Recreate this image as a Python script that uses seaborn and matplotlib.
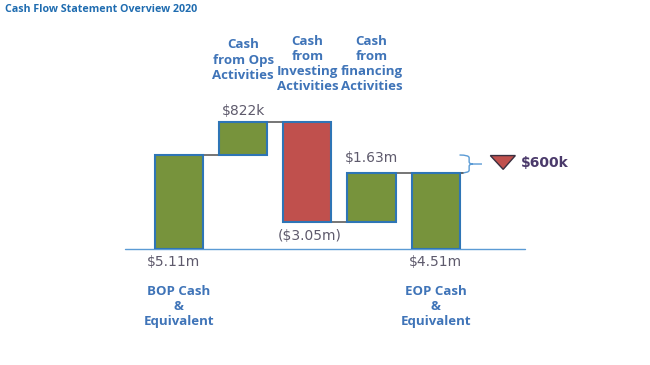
import matplotlib
matplotlib.use("Agg")
import matplotlib.pyplot as plt
import seaborn as sns
import pandas as pd
from matplotlib.patches import Polygon, PathPatch
from matplotlib.path import Path

# Waterfall steps (bar heights, in picture units)
steps = ["BOP", "Ops", "Investing", "Financing", "EOP"]
bop_level = 5.11
deltas = [1.79, -5.43, 2.66]          # ops, investing, financing
value_labels = ["$5.11m", "$822k", "($3.05m)", "$1.63m", "$4.51m"]
step_names = ["BOP Cash\n&\nEquivalent", "Cash\nfrom Ops\nActivities",
              "Cash\nfrom\nInvesting\nActivities", "Cash\nfrom\nfinancing\nActivities",
              "EOP Cash\n&\nEquivalent"]
change_label = "$600k"

GREEN = "#77933c"
RED = "#c0504d"
EDGE = "#2e75b6"
LABEL_BLUE = "#3f74b8"
VALUE_GRAY = "#5e5a6c"

# build bottoms / heights for the waterfall
levels = [bop_level]
for d in deltas:
    levels.append(levels[-1] + d)
eop_level = levels[-1]
bottoms = [0.0]
heights = [bop_level]
for i, d in enumerate(deltas):
    lo = min(levels[i], levels[i + 1])
    bottoms.append(lo)
    heights.append(abs(d))
bottoms.append(0.0)
heights.append(eop_level)
colors = [GREEN] + [GREEN if d > 0 else RED for d in deltas] + [GREEN]

df = pd.DataFrame({"step": steps, "height": heights})

sns.set_style("white")
plt.rcParams["font.family"] = ["DejaVu Sans"]

fig = plt.figure(figsize=(6.5, 3.65), dpi=100)
ax = fig.add_axes([125 / 650, (365 - 249) / 365, 400 / 650, 149 / 365])

sns.barplot(data=df, x="step", y="height", width=0.75, ax=ax,
            edgecolor=EDGE, linewidth=1.5, zorder=3)
for patch, b, c in zip(ax.patches, bottoms, colors):
    patch.set_y(b)
    patch.set_facecolor(c)

# connector lines between bars
w = 0.75
for i in range(4):
    lv = levels[i]
    ax.plot([i - w / 2, i + 1 + w / 2 + (0.05 if i == 3 else 0)], [lv, lv],
            color="#505050", lw=1.1, zorder=2)

ax.axhline(0, color="#5b9bd5", lw=1, zorder=1, clip_on=False)
ax.set_xlim(-0.84, 5.39)
ax.set_ylim(0, 8.1)
ax.axis("off")

# value labels
ax.text(-0.08, -0.72, value_labels[0], ha="center", va="center", fontsize=10, color=VALUE_GRAY)
ax.text(1, levels[1] + 0.6, value_labels[1], ha="center", va="center", fontsize=10, color=VALUE_GRAY)
ax.text(2.03, levels[2] - 0.76, value_labels[2], ha="center", va="center", fontsize=10, color=VALUE_GRAY)
ax.text(3, levels[3] + 0.8, value_labels[3], ha="center", va="center", fontsize=10, color=VALUE_GRAY)
ax.text(4, -0.72, value_labels[4], ha="center", va="center", fontsize=10, color=VALUE_GRAY)

# category labels
cat_font = dict(fontsize=9.5, fontweight="bold", color=LABEL_BLUE,
                family=["Open Sans", "DejaVu Sans"], linespacing=1.22, clip_on=False)
ax.text(1, 11.45, step_names[1], ha="center", va="top", **cat_font)
for i in [2, 3]:
    ax.text(i, 11.65, step_names[i], ha="center", va="top", **cat_font)
for i in [0, 4]:
    ax.text(i, -1.95, step_names[i], ha="center", va="top", **cat_font)

# brace showing the change between BOP and EOP
x0, x1, x2 = 4.37, 4.52, 4.72
ym = (bop_level + eop_level) / 2
verts = [(x0, bop_level), (x1, bop_level), (x1, bop_level - 0.15),
         (x1, ym + 0.12), (x1, ym), (x1 + 0.06, ym), (x2, ym),
         (x0, eop_level), (x1, eop_level), (x1, eop_level + 0.15),
         (x1, ym - 0.12), (x1, ym), (x1 + 0.06, ym)]
codes = [Path.MOVETO, Path.CURVE3, Path.CURVE3,
         Path.LINETO, Path.CURVE3, Path.CURVE3, Path.LINETO,
         Path.MOVETO, Path.CURVE3, Path.CURVE3,
         Path.LINETO, Path.CURVE3, Path.CURVE3]
ax.add_patch(PathPatch(Path(verts, codes), fill=False, edgecolor="#5b9bd5",
                       lw=1, clip_on=False))

tri = Polygon([(4.85, 5.08), (5.24, 5.08), (5.05, 4.33)], closed=True,
              facecolor=RED, edgecolor="#3a3040", lw=1, clip_on=False)
ax.add_patch(tri)
ax.text(5.33, 4.67, change_label, ha="left", va="center", fontsize=10,
        fontweight="bold", color="#4b3a6b", clip_on=False)

fig.text(5 / 650, 1 - 10 / 365, "Cash Flow Statement Overview 2020", ha="left", va="center",
         fontsize=7.7, fontweight="bold", color="#1f6cb0",
         family=["Open Sans", "DejaVu Sans"])

fig.savefig("out.png", dpi=100)
